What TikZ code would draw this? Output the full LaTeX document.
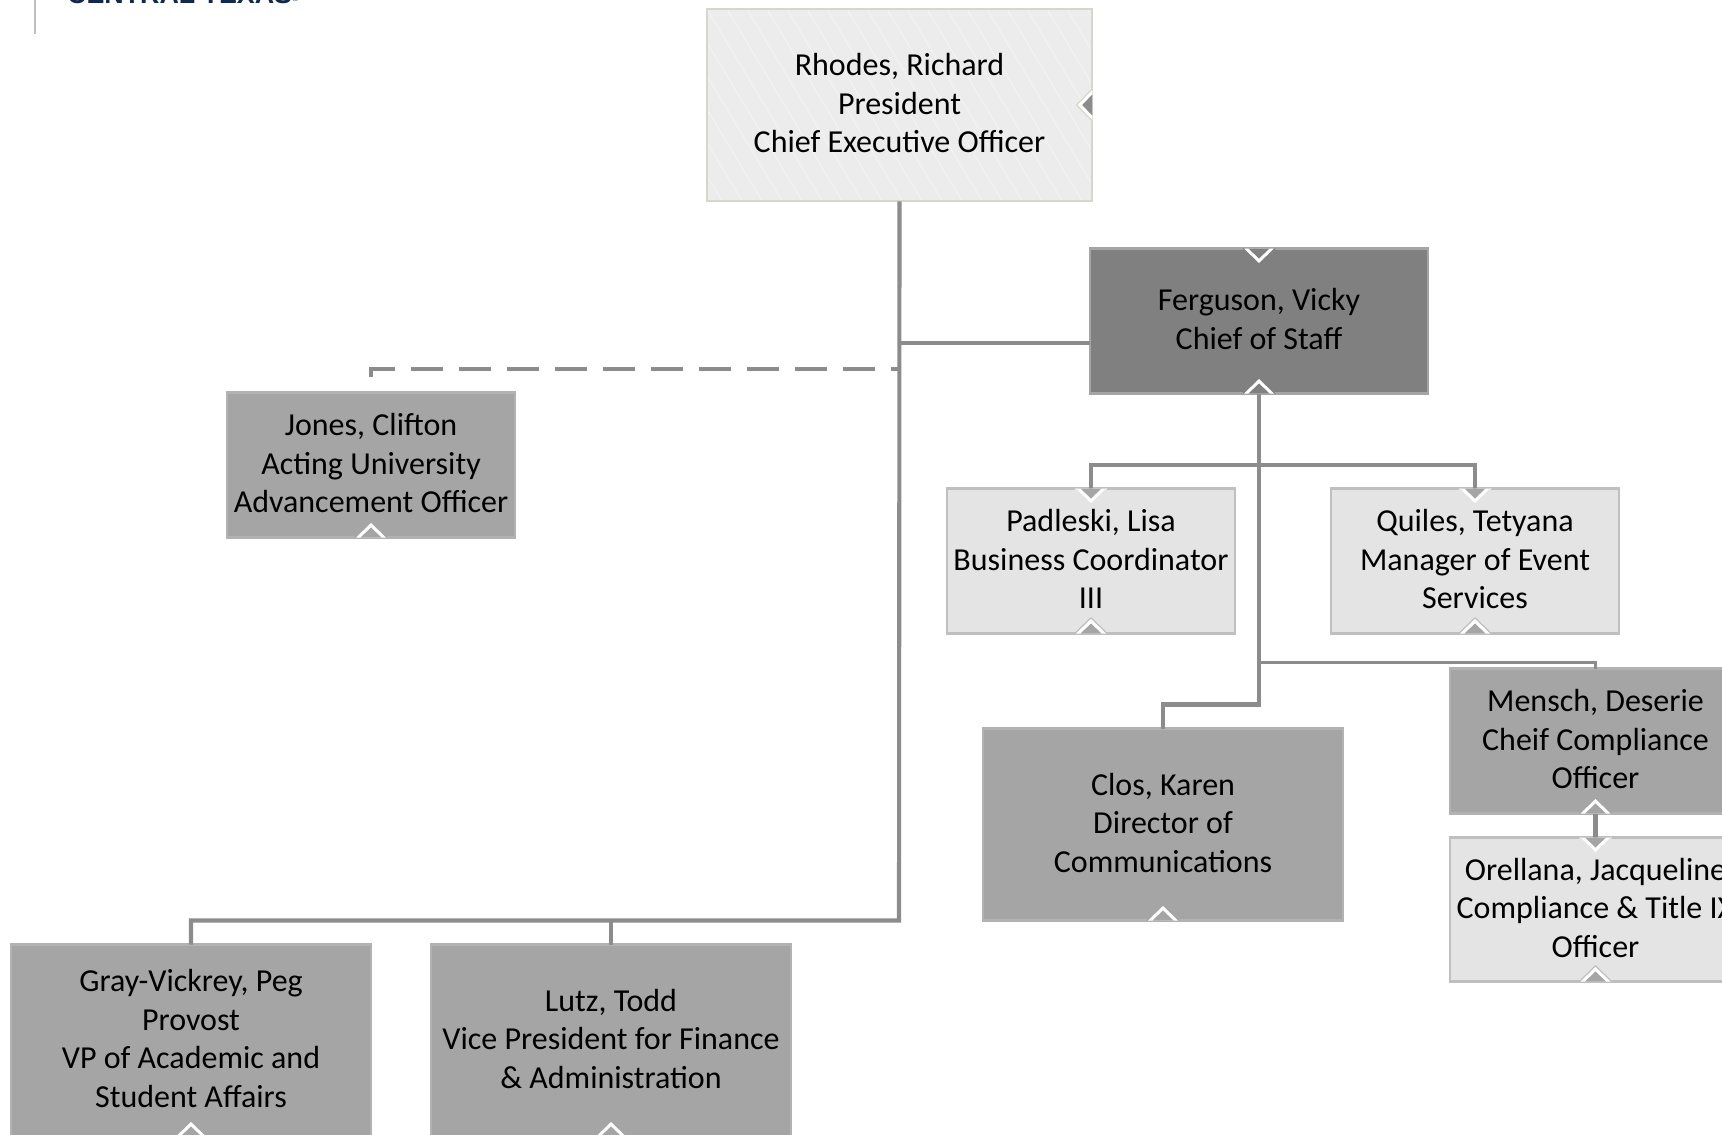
\documentclass[tikz,border=0pt]{standalone}
\usepackage{fontspec}
\setmainfont{Carlito}
\newfontfamily\logofont{Liberation Sans}
\definecolor{linegray}{HTML}{8C8C8C}
\definecolor{darkfill}{HTML}{808080}
\definecolor{midfill}{HTML}{A5A5A5}
\definecolor{midedge}{HTML}{B2B2B2}
\definecolor{lightfill}{HTML}{E4E4E4}
\definecolor{lightedge}{HTML}{BFBFBF}
\definecolor{topfill}{HTML}{ECECEC}
\definecolor{topedge}{HTML}{D6D6CB}
\definecolor{navy}{HTML}{14284F}
\newcommand\lastpad{\rule[-4pt]{0pt}{1pt}}
\tikzset{
  card/.style={rectangle,inner sep=0pt,outer sep=0pt,align=center,line width=2.2pt,text=black,
    font=\fontsize{32}{38.5}\selectfont},
  darkcard/.style={card,fill=darkfill,draw=midfill},
  midcard/.style={card,fill=midfill,draw=midedge},
  lightcard/.style={card,fill=lightfill,draw=lightedge},
  topcard/.style={card,fill=topfill,draw=topedge},
  conn/.style={draw=linegray,line width=4.1pt,line cap=butt,line join=miter},
  thinconn/.style={draw=linegray,line width=3.2pt},
  dashconn/.style={draw=linegray,line width=4.1pt,dash pattern=on 32pt off 16pt,dash phase=8pt},
}
\newcommand\chev[4]{%
  \begin{scope}[shift={(#1)},rotate=#2]
    \draw[#4,line width=1.4pt] (-16,0)--(0,15.5)--(16,0);
    \fill[white] (-15,0)--(0,14.5)--(15,0)--cycle;
    \fill[#3] (-10.5,0)--(0,10)--(10.5,0)--cycle;
  \end{scope}}
\begin{document}
\begin{tikzpicture}[x=1pt,y=-1pt]
\useasboundingbox (0,0) rectangle (1722,1135);
\clip (0,0) rectangle (1722,1135);
\fill[white] (0,0) rectangle (1722,1135);

% logo fragment
\coordinate (rulebot) at (35,34);
\coordinate (ruletop) at (35,0);
\draw[lightedge,line width=2pt] (ruletop) -- (rulebot);
\node[anchor=base west,inner sep=0pt,text=navy,font=\logofont\fontsize{26.8}{28}\selectfont\bfseries] (logo) at (67,4) {CENTRAL TEXAS\fontsize{6}{6}\selectfont ™};

% cards
\node[topcard,minimum width=385.5pt,minimum height=192.5pt,
  path picture={\foreach \i in {-200,-180,...,400}{\draw[white!35!topfill,line width=1pt]
     ([xshift=\i pt]path picture bounding box.north west) -- ++(120,200);}}]
  (rhodes) at (899.5,105) {Rhodes, Richard\\President\\Chief Executive Officer\lastpad};
\node[darkcard,minimum width=338.5pt,minimum height=145pt] (ferguson) at (1259,321) {Ferguson, Vicky\\Chief of Staff\lastpad};
\node[midcard,minimum width=288.5pt,minimum height=145pt] (jones) at (371,465) {Jones, Clifton\\Acting University\\Advancement Officer\lastpad};
\node[lightcard,minimum width=288.5pt,minimum height=145pt] (padleski) at (1091,561) {Padleski, Lisa\\Business Coordinator\\III\lastpad};
\node[lightcard,minimum width=288.5pt,minimum height=145pt] (quiles) at (1475,561) {Quiles, Tetyana\\Manager of Event\\Services\lastpad};
\node[midcard,minimum width=360.5pt,minimum height=192pt] (clos) at (1163,824.5) {Clos, Karen\\Director of\\Communications\lastpad};
\node[midcard,minimum width=290.5pt,minimum height=145pt] (mensch) at (1595.5,741) {Mensch, Deserie\\Cheif Compliance\\Officer\lastpad};
\node[lightcard,minimum width=290.5pt,minimum height=144pt] (orellana) at (1595.5,909.5) {Orellana, Jacqueline\\Compliance \& Title IX\\Officer\lastpad};
\node[midcard,minimum width=360.5pt,minimum height=192pt] (gray) at (191,1040.5) {Gray-Vickrey, Peg\\Provost\\VP of Academic and\\Student Affairs\lastpad};
\node[midcard,minimum width=360.5pt,minimum height=192pt] (lutz) at (611,1040.5) {Lutz, Todd\\Vice President for Finance\\\& Administration\lastpad};

% junction points
\coordinate (bus) at (899,920.5);
\coordinate (fjoin) at (1090,343);
\coordinate (dashcorner) at (371,369);
\coordinate (dashtop) at (371,367);
\coordinate (dashend) at (371,377);
\coordinate (adminbus) at (1259,465);
\coordinate (closbus) at (1259,704.5);
\coordinate (menschbus) at (1259,662.5);

% connectors
\draw[conn] (rhodes.south) -- (bus) -| (gray.north);
\draw[thinconn] (lutz.north) -- (lutz.north |- bus);
\draw[thinconn] (fjoin) -- (fjoin -| rhodes.south);
\draw[dashconn] (dashcorner) -- (dashcorner -| rhodes.south);
\draw[conn] (dashtop) -- (dashend);
\draw[conn] (ferguson.south) -- (closbus) -| (clos.north);
\draw[conn] (adminbus) -| (padleski.north);
\draw[conn] (adminbus) -| (quiles.north);
\draw[thinconn] (menschbus) -| (mensch.north);
\draw[conn] (mensch.south) -- (orellana.north);

% chevrons
\chev{rhodes.east}{-90}{linegray}{topedge}
\chev{ferguson.north}{0}{darkfill}{darkfill}
\chev{ferguson.south}{180}{darkfill}{darkfill}
\chev{jones.south}{180}{midfill}{midfill}
\chev{padleski.north}{0}{midfill}{lightfill}
\chev{padleski.south}{180}{midfill}{lightedge}
\chev{quiles.north}{0}{midfill}{lightfill}
\chev{quiles.south}{180}{midfill}{lightedge}
\chev{clos.south}{180}{midfill}{midfill}
\chev{mensch.south}{180}{midfill}{midfill}
\chev{orellana.north}{0}{midfill}{lightfill}
\chev{orellana.south}{180}{midfill}{lightedge}
\chev{gray.south}{180}{midfill}{midfill}
\chev{lutz.south}{180}{midfill}{midfill}
\end{tikzpicture}
\end{document}
